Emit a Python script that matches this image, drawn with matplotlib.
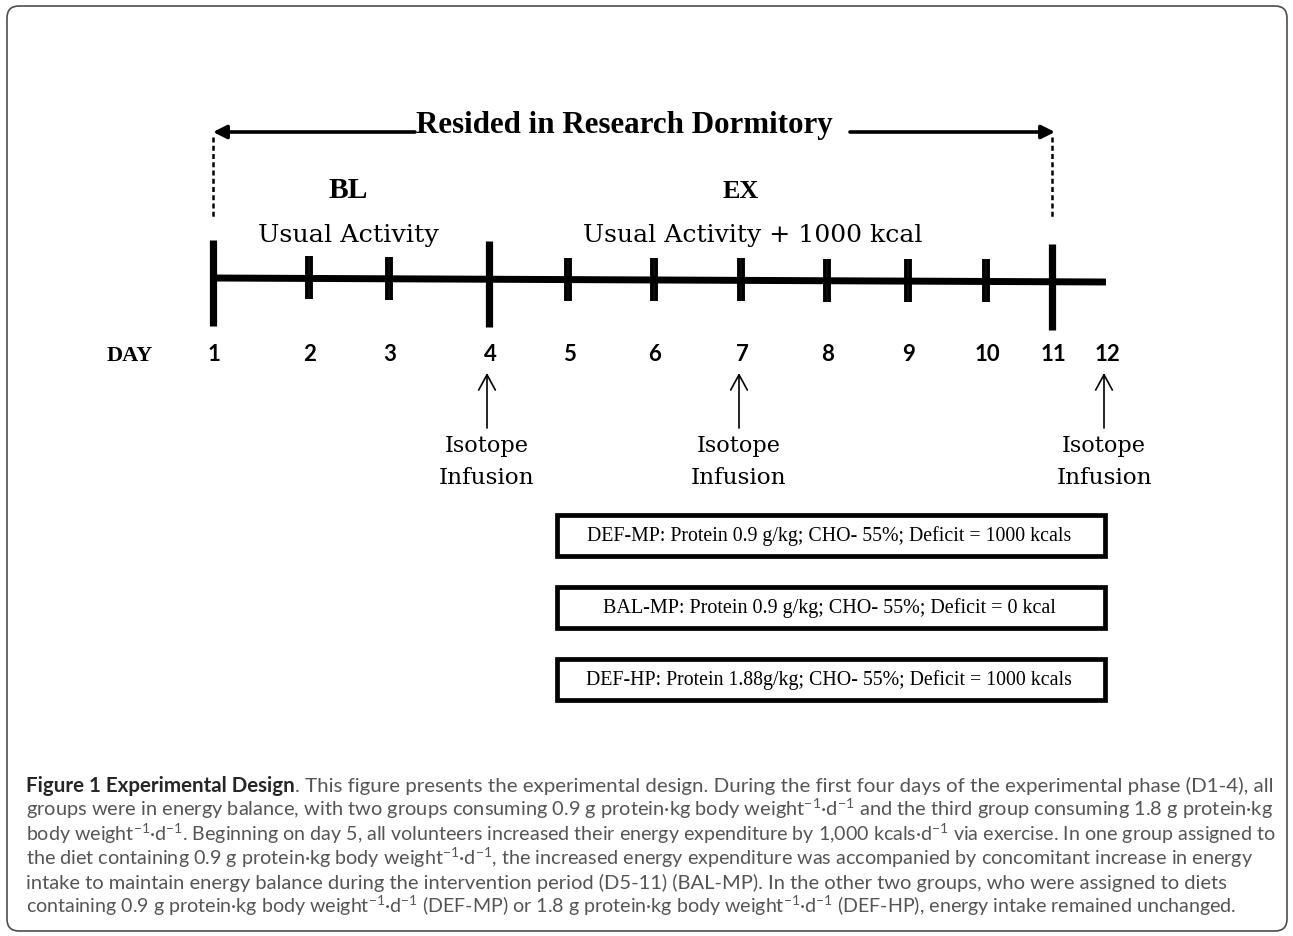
import matplotlib
matplotlib.use("Agg")
import matplotlib.pyplot as plt
from matplotlib.patches import FancyBboxPatch, Rectangle

# timeline data (day positions, in pixels)
days = list(range(1, 13))
day_x = [213, 309, 389, 489, 568, 654, 741, 827, 908, 986, 1052, 1106]
tall_days = [1, 4, 11]
short_days = [2, 3, 5, 6, 7, 8, 9, 10]
infusion_days = [4, 7, 12]

stay_label = "Resided in Research Dormitory"
phases = ["BL", "EX"]
activities = ["Usual Activity", "Usual Activity + 1000 kcal"]
diets = [
    "DEF-MP: Protein 0.9 g/kg; CHO- 55%; Deficit = 1000 kcals",
    "BAL-MP: Protein 0.9 g/kg; CHO- 55%; Deficit = 0 kcal",
    "DEF-HP: Protein 1.88g/kg; CHO- 55%; Deficit = 1000 kcals",
]

caption_title = "Figure 1 Experimental Design"
caption_lines = [
    ". This figure presents the experimental design. During the first four days of the experimental phase (D1-4), all",
    "groups were in energy balance, with two groups consuming 0.9 g protein\u00b7kg body weight$^{-1}$\u00b7d$^{-1}$ and the third group consuming 1.8 g protein\u00b7kg",
    "body weight$^{-1}$\u00b7d$^{-1}$. Beginning on day 5, all volunteers increased their energy expenditure by 1,000 kcals\u00b7d$^{-1}$ via exercise. In one group assigned to",
    "the diet containing 0.9 g protein\u00b7kg body weight$^{-1}$\u00b7d$^{-1}$, the increased energy expenditure was accompanied by concomitant increase in energy",
    "intake to maintain energy balance during the intervention period (D5-11) (BAL-MP). In the other two groups, who were assigned to diets",
    "containing 0.9 g protein\u00b7kg body weight$^{-1}$\u00b7d$^{-1}$ (DEF-MP) or 1.8 g protein\u00b7kg body weight$^{-1}$\u00b7d$^{-1}$ (DEF-HP), energy intake remained unchanged.",
]

CAP_FONT = 'Lato'
plt.rcParams['mathtext.fontset'] = 'custom'
plt.rcParams['mathtext.rm'] = CAP_FONT
plt.rcParams['mathtext.it'] = CAP_FONT

fig = plt.figure(figsize=(12.93, 9.36), dpi=100)
ax = fig.add_axes([0, 0, 1, 1])
ax.set_xlim(0, 1293)
ax.set_ylim(936, 0)
ax.axis('off')
renderer = fig.canvas.get_renderer()


def width_of(t):
    return t.get_window_extent(renderer).width


def fit_text(x, y, s, w, size=12, **kw):
    # draw text and scale it so that it is w pixels wide
    t = ax.text(x, y, s, fontsize=size, **kw)
    t.set_fontsize(size * w / width_of(t))
    return t


SERIF = 'Liberation Serif'
SLAB = 'DejaVu Serif'

# outer frame
ax.add_patch(FancyBboxPatch((7, 6), 1280, 925, boxstyle='round,pad=0,rounding_size=12',
                            ec='#4d4d4d', fc='none', lw=1.2))

# dormitory arrow
x0, x1 = day_x[0], day_x[10]
ax.annotate('', xy=(x0, 132), xytext=(415, 132),
            arrowprops=dict(arrowstyle='-|>', lw=2.6, color='k', mutation_scale=20,
                            shrinkA=0, shrinkB=0))
ax.annotate('', xy=(x1 + 3, 132), xytext=(850, 132),
            arrowprops=dict(arrowstyle='-|>', lw=2.6, color='k', mutation_scale=20,
                            shrinkA=0, shrinkB=0))
fit_text(624, 133, stay_label, 415, family=SERIF, weight='bold', ha='center', va='baseline')
for xd in (x0, x1):
    ax.plot([xd, xd], [137, 218], color='k', lw=1.8, ls=(0, (2, 1.3)))

# phase labels
fit_text((day_x[0] + day_x[3]) / 2 - 3, 198, phases[0], 39, family=SERIF, weight='bold',
         ha='center', va='baseline')
fit_text(day_x[6], 198, phases[1], 36, family=SERIF, weight='bold', ha='center', va='baseline')
fit_text(348, 242, activities[0], 179, family=SLAB, ha='center', va='baseline')
fit_text(753, 242, activities[1], 337, family=SLAB, ha='center', va='baseline')


# timeline (slightly tilted, as in the scan)
def line_y(x):
    return 278 + (x - day_x[0]) / (day_x[-1] - day_x[0]) * 4


ax.plot([day_x[0], day_x[-1]], [line_y(day_x[0]), line_y(day_x[-1])], color='k', lw=5,
        solid_capstyle='butt')
for d in tall_days:
    x = day_x[d - 1]
    ax.plot([x, x], [line_y(x) - 38, line_y(x) + 48], color='k', lw=5.2, solid_capstyle='butt')
for d in short_days:
    x = day_x[d - 1]
    for off in (-2.2, 2.2):
        ax.plot([x + off, x + off], [line_y(x) - 22, line_y(x) + 21], color='k', lw=2.8,
                solid_capstyle='butt')

# day labels
ax.text(130, 361, "DAY", fontsize=16, family=SERIF, weight='bold', ha='center', va='baseline')
for d, x in zip(days, day_x):
    ax.text(x + 1, 361, str(d), fontsize=16, family='Lato', weight='bold', ha='center',
            va='baseline')

# isotope infusions
for d in infusion_days:
    x = day_x[d - 1] - 2
    ax.annotate('', xy=(x, 373), xytext=(x, 428),
                arrowprops=dict(arrowstyle='->,head_length=0.55,head_width=0.3', lw=1.2,
                                color='k', mutation_scale=20, shrinkA=0, shrinkB=0))
    fit_text(x, 452, "Isotope", 84, family=SLAB, ha='center', va='baseline')
    fit_text(x, 484, "Infusion", 95, family=SLAB, ha='center', va='baseline')

# diet boxes
for i, (label, w) in enumerate(zip(diets, [484, 452, 484])):
    top = 515 + 72 * i
    ax.add_patch(Rectangle((557, top), 548, 41, fill=False, ec='k', lw=3.4))
    fit_text(829, top + 21, label, w, family=SERIF, ha='center', va='center')

# caption, each line stretched to the width it has in the reference
line_widths = [1245, 1246, 1246, 1224, 1196, 1211]
cap_kw = dict(family=CAP_FONT, va='baseline')
title = ax.text(26, 792, caption_title, fontsize=10, weight='bold', color='#262626', **cap_kw)
rest = ax.text(26, 792, caption_lines[0], fontsize=10, color='#555555', **cap_kw)
fs = 10 * line_widths[0] / (width_of(title) + width_of(rest))
title.set_fontsize(fs)
rest.set_fontsize(fs)
rest.set_x(26 + width_of(title))
for i, line in enumerate(caption_lines[1:], start=1):
    fit_text(26, 792 + 24.2 * i, line, line_widths[i], color='#555555', **cap_kw)

fig.savefig('out.png', dpi=100)
